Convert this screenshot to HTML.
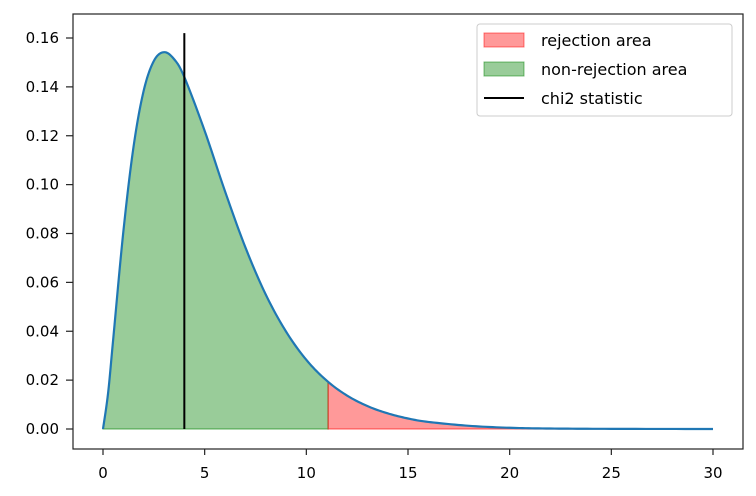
<!DOCTYPE html>
<html><head><meta charset="utf-8"><style>
html,body{margin:0;padding:0;background:#fff;}
svg{display:block;font-family:"DejaVu Sans","Liberation Sans",sans-serif;}
</style></head><body>
<svg id="chart" width="756" height="496"></svg>
<script>
const xs = [0,0.25,0.5,1,1.5,2,2.5,3,3.5,4,5,6,7,8,9,10,11,12,13,14,15,16,18,20,22,25,30];
const ys = [0,0.0147,0.0366,0.0807,0.1154,0.1384,0.1506,0.1542,0.1513,0.1440,0.1220,0.0973,0.0744,0.0551,0.0399,0.0283,0.0198,0.0137,0.0094,0.0064,0.0043,0.0029,0.0013,0.0005,0.0002,0.00006,0.0000];
const critValue = 11.07;
const statValue = 4;
const statTop = 0.162;
const xTicks = [0,5,10,15,20,25,30];
const yTicks = [0,0.02,0.04,0.06,0.08,0.10,0.12,0.14,0.16];
const yTickLabels = ["0.00","0.02","0.04","0.06","0.08","0.10","0.12","0.14","0.16"];

const NS="http://www.w3.org/2000/svg";
const svg=document.getElementById('chart');
const X=v=>103+v*(713-103)/30;
const Y=v=>429-v*(429-38)/0.16;
function mk(t,a,p){const e=document.createElementNS(NS,t);for(const k in a)e.setAttribute(k,a[k]);(p||svg).appendChild(e);return e;}
function sample(){const pts=[];for(let i=0;i<xs.length-1;i++){const x0=xs[Math.max(i-1,0)],y0=ys[Math.max(i-1,0)],x1=xs[i],y1=ys[i],x2=xs[i+1],y2=ys[i+1],x3=xs[Math.min(i+2,xs.length-1)],y3=ys[Math.min(i+2,xs.length-1)];
 for(let s=0;s<12;s++){const t=s/12,t2=t*t,t3=t2*t;
  const cx=0.5*((2*x1)+(-x0+x2)*t+(2*x0-5*x1+4*x2-x3)*t2+(-x0+3*x1-3*x2+x3)*t3);
  let cy=0.5*((2*y1)+(-y0+y2)*t+(2*y0-5*y1+4*y2-y3)*t2+(-y0+3*y1-3*y2+y3)*t3);
  pts.push([cx,Math.max(cy,0)]);}}
 pts.push([xs[xs.length-1],ys[ys.length-1]]);return pts;}
const pts=sample();
function yAt(x){for(let i=0;i<pts.length-1;i++){if(pts[i][0]<=x&&pts[i+1][0]>=x){const f=(x-pts[i][0])/(pts[i+1][0]-pts[i][0]||1);return pts[i][1]+f*(pts[i+1][1]-pts[i][1]);}}return 0;}
const yc=yAt(critValue);
let g='M'+X(0)+','+Y(0);pts.filter(p=>p[0]<critValue).forEach(p=>g+=' L'+X(p[0])+','+Y(p[1]));g+=' L'+X(critValue)+','+Y(yc)+' L'+X(critValue)+','+Y(0)+' Z';
let r='M'+X(critValue)+','+Y(0)+' L'+X(critValue)+','+Y(yc);pts.filter(p=>p[0]>critValue).forEach(p=>r+=' L'+X(p[0])+','+Y(p[1]));r+=' L'+X(30)+','+Y(0)+' Z';
const nr=mk('path',{d:g,fill:'rgba(0,128,0,0.4)',stroke:'rgba(0,128,0,0.5)','stroke-width':1.2});


const ra=mk('path',{d:r,fill:'rgba(255,0,0,0.4)',stroke:'rgba(255,0,0,0.5)','stroke-width':1.2});


let c='';pts.forEach((p,i)=>c+=(i?' L':'M')+X(p[0])+','+Y(p[1]));
const cl=mk('path',{d:c,fill:'none',stroke:'#1f77b4','stroke-width':2.2});


const sl=mk('line',{x1:X(statValue),x2:X(statValue),y1:Y(0),y2:Y(statTop),stroke:'#000','stroke-width':2});


const fr=mk('rect',{x:73,y:14,width:670,height:435,fill:'none',stroke:'#222','stroke-width':1.2});


xTicks.forEach(v=>{mk('line',{x1:X(v),x2:X(v),y1:449,y2:455,stroke:'#222','stroke-width':1.2});
 const t=mk('text',{x:X(v),y:478,'text-anchor':'middle','font-size':15});t.textContent=v;
 
 });
yTicks.forEach((v,i)=>{mk('line',{x1:66,x2:73,y1:Y(v),y2:Y(v),stroke:'#222','stroke-width':1.2});
 const t=mk('text',{x:59,y:Y(v)+5,'text-anchor':'end','font-size':15});t.textContent=yTickLabels[i];
 
 });
const lg=mk('g',{});


mk('rect',{x:477,y:24,width:255,height:92,rx:3,fill:'#fff','fill-opacity':0.8,stroke:'#ccc'},lg);
mk('rect',{x:484,y:33,width:40,height:14,fill:'rgba(255,0,0,0.4)',stroke:'rgba(255,0,0,0.5)'},lg);
mk('rect',{x:484,y:62,width:40,height:14,fill:'rgba(0,128,0,0.4)',stroke:'rgba(0,128,0,0.5)'},lg);
mk('line',{x1:484,x2:524,y1:98,y2:98,stroke:'#000','stroke-width':2},lg);
[["rejection area",46],["non-rejection area",75],["chi2 statistic",104]].forEach(a=>{const t=mk('text',{x:541,y:a[1],'font-size':16},lg);t.textContent=a[0];
 
 });
</script>
</body></html>
